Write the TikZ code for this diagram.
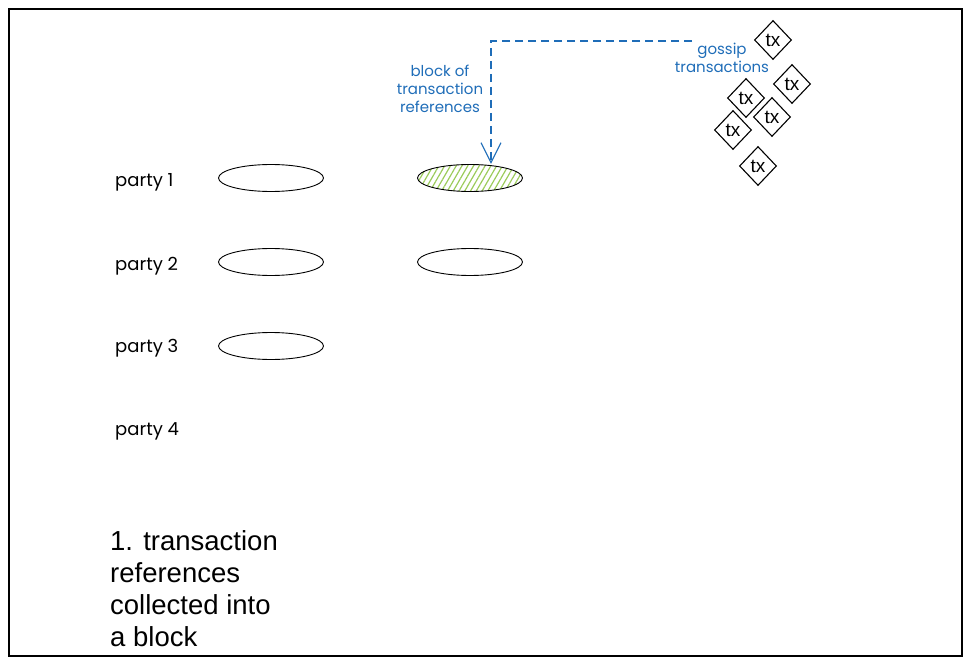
\documentclass[tikz,border=0pt]{standalone}
\usepackage{fontspec}
\setmainfont{Liberation Sans}
\newfontfamily\handfont{Poppins}
\usetikzlibrary{shapes.geometric,patterns.meta,arrows.meta}
\definecolor{xblue}{HTML}{1F6DB8}
\definecolor{xgreen}{HTML}{9BCB5A}
\tikzset{
  partylabel/.style={font=\handfont\fontsize{18}{20}\selectfont, anchor=west, inner sep=0pt},
  slot/.style={ellipse, draw=black, line width=0.9pt, minimum width=105pt, minimum height=27pt, inner sep=0pt},
  filledslot/.style={slot, pattern={Lines[angle=60,distance=5pt,line width=1.2pt]}, pattern color=xgreen},
  txbox/.style={diamond, draw=black, line width=1.1pt, minimum width=37pt, minimum height=39pt, inner sep=0pt, font=\fontsize{19}{20}\selectfont, fill=white},
  bluetext/.style={font=\handfont\fontsize{15}{20}\selectfont, text=xblue, align=center, inner sep=0pt},
  flow/.style={draw=xblue, line width=1.3pt, dash pattern=on 8pt off 5pt, -{Straight Barb[length=20pt,width=20pt,line width=1.1pt]}},
}
\begin{document}
\begin{tikzpicture}[x=1pt,y=-1pt]
\useasboundingbox (0,0) rectangle (972,666);
\draw[line width=1.3pt] (9,9) rectangle (962,656);
% party labels
\node[partylabel] (p1) at (115,182) {party 1};
\node[partylabel] (p2) at (115,266) {party 2};
\node[partylabel] (p3) at (115,348) {party 3};
\node[partylabel] (p4) at (115,431) {party 4};
% ellipses
\node[slot] (e11) at (271,178) {};
\node[slot] (e21) at (271,262) {};
\node[slot] (e31) at (271,346) {};
\node[filledslot] (e12) at (470,178) {};
\node[slot] (e22) at (470,262) {};
% tx diamonds
\node[txbox] (t1) at (773,40) {tx};
\node[txbox] (t2) at (792,84) {tx};
\node[txbox] (t3) at (746,98) {tx};
\node[txbox] (t4) at (772,117) {tx};
\node[txbox] (t5) at (733,130) {tx};
\node[txbox] (t6) at (758,166) {tx};
% labels
\node[bluetext] (gossip) at (722,58) {gossip\\[-2pt]transactions};
\node[bluetext] (blk) at (440,89) {block of\\[-2pt]transaction\\[-2pt]references};
\coordinate (start) at (692,41);
\coordinate (corner) at (491,41);
\draw[flow] (start) -- (corner) -- (e12.north -| corner);
% caption
\node[anchor=north west, align=left, inner sep=0pt, font=\fontsize{27.5}{32}\selectfont] (cap) at (110,530) {1. transaction\\references\\collected into\\a block};
\end{tikzpicture}
\end{document}
